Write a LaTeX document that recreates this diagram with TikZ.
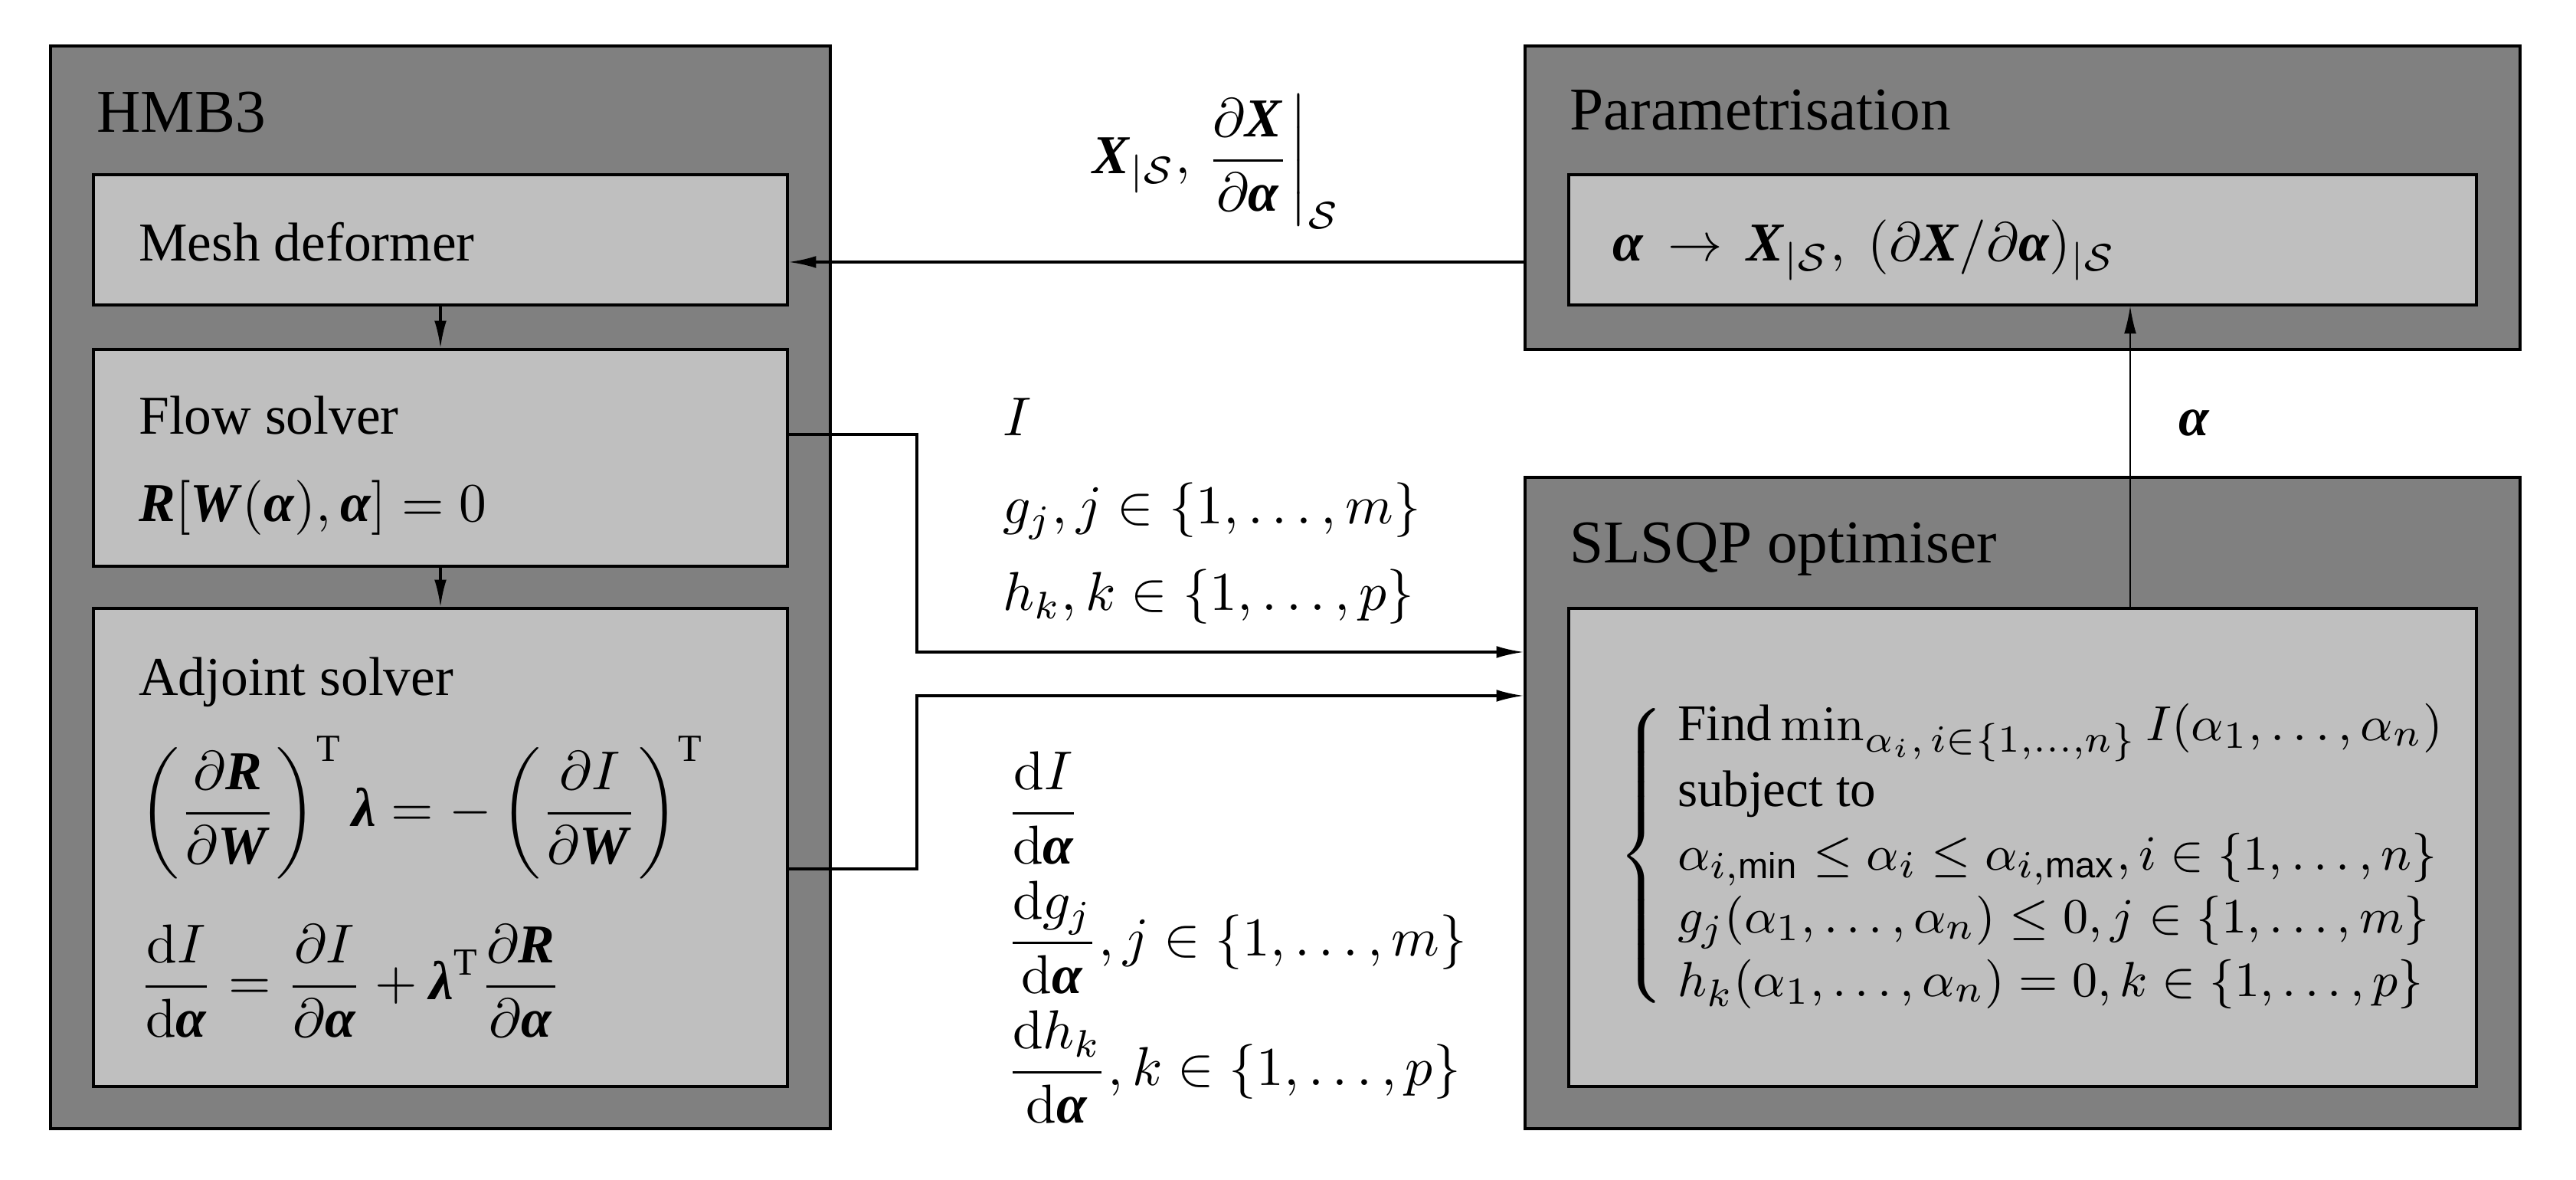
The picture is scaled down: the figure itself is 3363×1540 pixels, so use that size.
\documentclass[tikz,border=0pt]{standalone}
\usepackage{amsmath}
\usepackage[no-math]{fontspec}
\setmainfont{Liberation Serif}
\setsansfont{Liberation Sans}
\usetikzlibrary{fit,arrows.meta}
\definecolor{outerc}{RGB}{128,128,128}
\definecolor{innerc}{RGB}{191,191,191}
\newcommand{\bv}[1]{\text{\bfseries\itshape #1\/}}
\newcommand{\tT}{\text{T}}
\tikzset{
  outerbox/.style={draw=black,line width=0.45pt,fill=outerc,inner sep=0pt},
  innerbox/.style={draw=black,line width=0.45pt,fill=innerc,inner sep=0pt},
  txt/.style={anchor=base west,inner sep=0pt,font=\fontsize{10}{12}\selectfont},
  ttl/.style={anchor=base west,inner sep=0pt,font=\fontsize{11.1}{13}\selectfont},
  conn/.style={line width=0.45pt,-{Latex[length=5pt,width=2.2pt]}},
  thinconn/.style={line width=0.25pt,-{Latex[length=5pt,width=2.2pt]}},
}
\begin{document}
\begin{tikzpicture}[x=0.14pt,y=-0.14pt]
\useasboundingbox (0,0) rectangle (3363,1540);
% HMB3 block
\node[outerbox,fit={(66,60) (1084,1473)}] (hmb) {};
\node[ttl] (hmbt) at (125,173) {HMB3};
\node[innerbox,fit={(122,228) (1028,398)}] (mesh) {};
\node[txt] (mesht) at (180,341) {Mesh deformer};
\node[innerbox,fit={(122,456) (1028,739)}] (flow) {};
\node[txt] (flowt) at (180,567) {Flow solver};
\node[txt] (flowe) at (180,681) {$\bv{R}[\bv{W}(\bv{α}),\bv{α}]=0$};
\node[innerbox,fit={(122,794) (1028,1418)}] (adj) {};
\node[txt] (adjt) at (180,908) {Adjoint solver};
\node[txt] (adje1) at (180,1079) {$\displaystyle\left(\frac{\partial\bv{R}}{\partial\bv{W}}\right)^{\tT}\bv{λ}=-\left(\frac{\partial I}{\partial\bv{W}}\right)^{\tT}$};
\node[txt] (adje2) at (180,1305) {$\displaystyle\frac{\mathrm dI}{\mathrm d\bv{α}}=\frac{\partial I}{\partial\bv{α}}+\bv{λ}^{\tT}\frac{\partial\bv{R}}{\partial\bv{α}}$};
% Parametrisation block
\node[outerbox,fit={(1991,60) (3290,456)}] (parout) {};
\node[ttl] (part) at (2048,170) {Parametrisation};
\node[innerbox,fit={(2048,228) (3233,398)}] (parin) {};
\node[txt] (pare) at (2104,341) {$\bv{α}\,\rightarrow\,\bv{X}_{|\mathcal S},\ (\partial\bv{X}/\partial\bv{α})_{|\mathcal S}$};
% SLSQP block
\node[outerbox,fit={(1991,623) (3290,1473)}] (slout) {};
\node[ttl] (slt) at (2048,735) {SLSQP optimiser};
\node[innerbox,fit={(2048,794) (3233,1418)}] (slin) {};
\node[txt,anchor=west,font=\fontsize{9.4}{11.6}\selectfont] (sle) at (2112,1117) {$\left\{\begin{array}{@{\hspace{2.5pt}}l@{}}
\text{Find}\min_{\alpha_i,\,i\in\{1,\dots,n\}} I(\alpha_1,\dots,\alpha_n)\\
\text{subject to}\\
\alpha_{i,\textsf{min}}\le\alpha_i\le\alpha_{i,\textsf{max}}, i\in\{1,\dots,n\}\\
g_j(\alpha_1,\dots,\alpha_n)\le 0, j\in\{1,\dots,m\}\\
h_k(\alpha_1,\dots,\alpha_n)=0, k\in\{1,\dots,p\}
\end{array}\right.$};
% connector labels
\node[txt] (lx) at (1425,227) {$\bv{X}_{|\mathcal S}, \left.\dfrac{\partial\bv{X}}{\partial\bv{α}}\right|_{\mathcal S}$};
\node[txt] (li) at (1308,569) {$I$};
\node[txt] (lg) at (1308,684) {$g_j, j\in\{1,\dots,m\}$};
\node[txt] (lh) at (1308,797) {$h_k, k\in\{1,\dots,p\}$};
\node[txt] (ldi) at (1312,1079) {$\dfrac{\mathrm dI}{\mathrm d\bv{α}}$};
\node[txt] (ldg) at (1312,1248) {$\dfrac{\mathrm dg_j}{\mathrm d\bv{α}}, j\in\{1,\dots,m\}$};
\node[txt] (ldh) at (1312,1417) {$\dfrac{\mathrm dh_k}{\mathrm d\bv{α}}, k\in\{1,\dots,p\}$};
\node[txt] (la) at (2843,569) {$\bv{α}$};
% connectors
\coordinate (ypm) at (0,342);
\coordinate (yflow) at (0,567);
\coordinate (yadj) at (0,1134);
\coordinate (ya1) at (0,851);
\coordinate (ya2) at (0,908);
\coordinate (xbus) at (1197,0);
\coordinate (xal) at (2781,0);
\draw[conn] (mesh.south) -- (flow.north);
\draw[conn] (flow.south) -- (adj.north);
\draw[conn] (parout.west |- ypm) -- (mesh.east |- ypm);
\draw[conn] (flow.east |- yflow) -- (xbus |- yflow) -- (xbus |- ya1) -- (slout.west |- ya1);
\draw[conn] (adj.east |- yadj) -- (xbus |- yadj) -- (xbus |- ya2) -- (slout.west |- ya2);
\draw[thinconn] (slin.north -| xal) -- (parin.south -| xal);
\end{tikzpicture}
\end{document}
